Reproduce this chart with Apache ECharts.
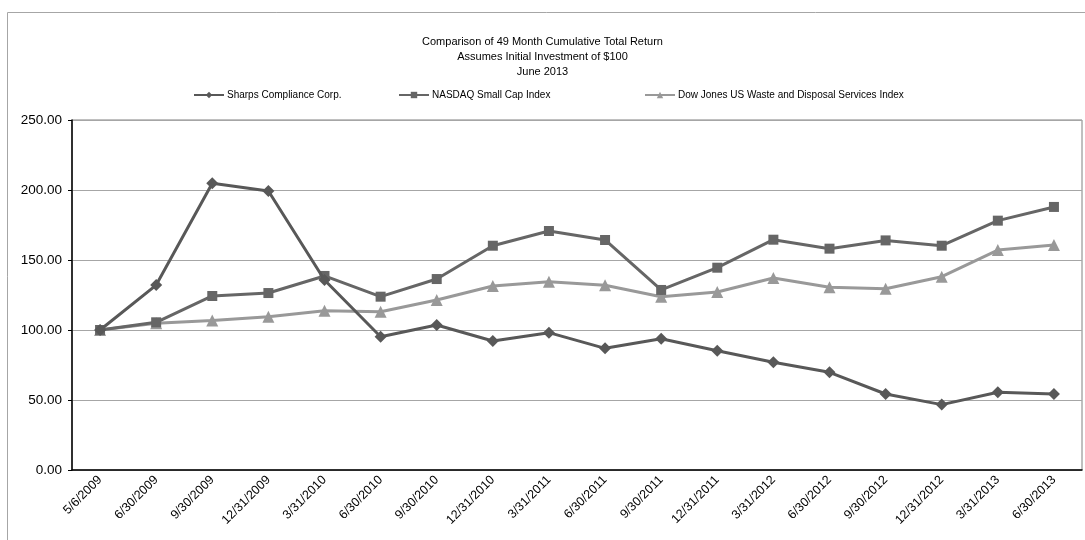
<!DOCTYPE html>
<html>
<head>
<meta charset="utf-8">
<script src="https://cdn.jsdelivr.net/npm/echarts@6/dist/echarts.min.js"></script>
<style>
html,body{margin:0;padding:0;background:#fff;}
#c{width:1085px;height:540px;}
</style>
</head>
<body>
<div id="c"></div>
<script>
const categories = ['5/6/2009','6/30/2009','9/30/2009','12/31/2009','3/31/2010','6/30/2010','9/30/2010','12/31/2010','3/31/2011','6/30/2011','9/30/2011','12/31/2011','3/31/2012','6/30/2012','9/30/2012','12/31/2012','3/31/2013','6/30/2013'];
const sharps = [100, 132.1, 204.8, 199.3, 135.7, 95.2, 103.6, 92.1, 98.1, 86.9, 93.8, 85.2, 76.9, 69.8, 54.3, 46.7, 55.5, 54.3];
const nasdaq = [100, 105.5, 124.3, 126.4, 138.6, 123.8, 136.4, 160.2, 170.7, 164.3, 128.6, 144.5, 164.5, 158.1, 164.0, 160.2, 178.1, 187.9];
const dowjones = [100, 104.8, 106.7, 109.5, 113.8, 113.1, 121.4, 131.4, 134.5, 131.9, 123.8, 127.1, 137.1, 130.5, 129.5, 138.1, 157.1, 160.7];
const seriesNames = ['Sharps Compliance Corp.', 'NASDAQ Small Cap Index', 'Dow Jones US Waste and Disposal Services Index'];
const titleLines = ['Comparison of 49 Month Cumulative Total Return', 'Assumes Initial Investment of $100', 'June 2013'];

const FONT = '"Liberation Sans", Arial, sans-serif';
const chart = echarts.init(document.getElementById('c'), null, {renderer: 'canvas'});
const legendCommon = {
  top: 90, itemWidth: 30, itemHeight: 8, itemGap: 10,
  textStyle: {fontFamily: FONT, fontSize: 10, color: '#000', padding: [0, 0, 0, -2]}, padding: 0
};
chart.setOption({
  animation: false,
  backgroundColor: '#fff',
  title: {
    text: titleLines.join('\n'),
    left: 'center', top: 29,
    textStyle: {fontFamily: FONT, fontSize: 11, fontWeight: 'normal', color: '#000', lineHeight: 15}
  },
  legend: [
    Object.assign({data: [seriesNames[0]], left: 193}, legendCommon),
    Object.assign({data: [seriesNames[1]], left: 398}, legendCommon),
    Object.assign({data: [seriesNames[2]], left: 644}, legendCommon)
  ],
  graphic: [
    {type: 'line', shape: {x1: 7.5, y1: 12.5, x2: 1085, y2: 12.5}, style: {stroke: '#a6a6a6', lineWidth: 1}},
    {type: 'line', shape: {x1: 7.5, y1: 12.5, x2: 7.5, y2: 540}, style: {stroke: '#a6a6a6', lineWidth: 1}}
  ],
  grid: {left: 72, right: 3, top: 120, bottom: 70, show: true, borderColor: '#808080', borderWidth: 1, containLabel: false},
  xAxis: {
    type: 'category', data: categories, boundaryGap: true,
    axisLine: {lineStyle: {color: '#000', width: 1.5}},
    axisTick: {alignWithLabel: true, length: 4, lineStyle: {color: '#888'}},
    axisLabel: {rotate: 45, fontFamily: FONT, fontSize: 12.5, color: '#000', margin: 8, interval: 0}
  },
  yAxis: {
    type: 'value', min: 0, max: 250, interval: 50,
    axisLine: {show: true, lineStyle: {color: '#000', width: 1.5}},
    axisTick: {show: true, length: 4, lineStyle: {color: '#000'}},
    axisLabel: {formatter: v => v.toFixed(2), fontFamily: FONT, fontSize: 13.5, color: '#000', margin: 10},
    splitLine: {lineStyle: {color: '#a6a6a6', width: 1}}
  },
  series: [
    {name: seriesNames[0], type: 'line', data: sharps, symbol: 'diamond', symbolSize: 12,
     lineStyle: {color: '#585858', width: 3}, itemStyle: {color: '#585858'}, z: 4},
    {name: seriesNames[1], type: 'line', data: nasdaq, symbol: 'rect', symbolSize: 10,
     lineStyle: {color: '#666666', width: 3}, itemStyle: {color: '#666666'}, z: 3},
    {name: seriesNames[2], type: 'line', data: dowjones, symbol: 'triangle', symbolSize: 12,
     lineStyle: {color: '#999999', width: 3}, itemStyle: {color: '#999999'}, z: 2}
  ]
});
</script>
</body>
</html>
